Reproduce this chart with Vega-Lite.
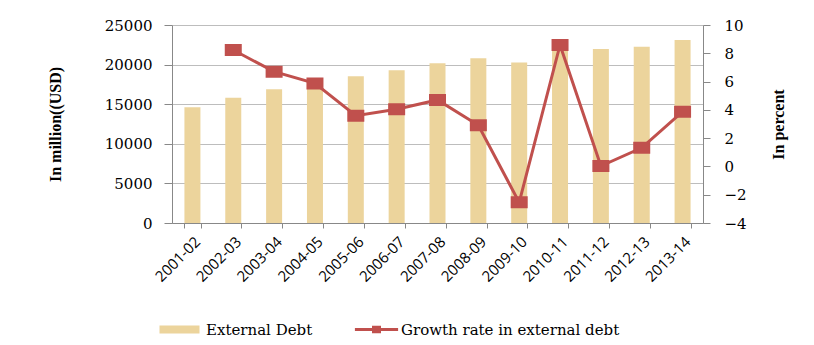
{
  "$schema": "https://vega.github.io/schema/vega-lite/v6.json",
  "autosize": {"type": "none"},
  "width": 531,
  "height": 198,
  "padding": {"left": 172, "top": 25, "right": 111, "bottom": 122},
  "background": "white",
  "config": {"view": {"stroke": null}},
  "data": {
    "values": [
      {"year": "2001-02", "debt": 14600, "growth": null},
      {"year": "2002-03", "debt": 15800, "growth": 8.23},
      {"year": "2003-04", "debt": 16900, "growth": 6.7},
      {"year": "2004-05", "debt": 17880, "growth": 5.87},
      {"year": "2005-06", "debt": 18520, "growth": 3.59},
      {"year": "2006-07", "debt": 19280, "growth": 4.04},
      {"year": "2007-08", "debt": 20160, "growth": 4.7},
      {"year": "2008-09", "debt": 20790, "growth": 2.91},
      {"year": "2009-10", "debt": 20250, "growth": -2.54},
      {"year": "2010-11", "debt": 22000, "growth": 8.59},
      {"year": "2011-12", "debt": 21970, "growth": 0.03},
      {"year": "2012-13", "debt": 22260, "growth": 1.32},
      {"year": "2013-14", "debt": 23100, "growth": 3.87}
    ]
  },
  "encoding": {
    "x": {
      "field": "year",
      "type": "ordinal",
      "scale": {"paddingInner": 0.6, "paddingOuter": 0.3},
      "axis": {
        "title": null,
        "labelAngle": -45,
        "labelFont": "Open Sans",
        "labelFontSize": 15,
        "labelColor": "#000000",
        "labelPadding": 6,
        "tickBand": "extent",
        "tickSize": 5,
        "tickColor": "#888888",
        "domainColor": "#888888",
        "grid": false
      }
    }
  },
  "layer": [
    {
      "mark": {"type": "bar", "width": 16},
      "encoding": {
        "y": {
          "field": "debt",
          "type": "quantitative",
          "scale": {"domain": [0, 25000], "nice": false},
          "axis": {
            "values": [0, 5000, 10000, 15000, 20000, 25000],
            "format": "d",
            "title": "In million((USD)",
            "titleFont": "Liberation Serif",
            "titleFontSize": 16,
            "titleFontWeight": "bold",
            "titleColor": "#000000",
            "titleX": -117,
            "titleY": 99,
            "titleAngle": -90,
            "titleAlign": "center",
            "titleBaseline": "middle",
            "labelFont": "DejaVu Serif",
            "labelFontSize": 15,
            "labelColor": "#000000",
            "labelPadding": 12,
            "tickSize": 8,
            "tickColor": "#888888",
            "domainColor": "#888888",
            "grid": true,
            "gridColor": "#bdbdbd",
            "gridWidth": 1
          }
        },
        "fill": {
          "datum": "External Debt",
          "type": "nominal",
          "scale": {"range": ["#ecd49c"]},
          "legend": {
            "orient": "none",
            "legendX": 0,
            "legendY": 297,
            "title": null,
            "symbolType": "M-5,-1H5V1H-5Z",
            "symbolSize": 64,
            "symbolStrokeWidth": 0,
            "labelOffset": 19,
            "labelLimit": 0,
            "labelFont": "DejaVu Serif",
            "labelFontSize": 15,
            "labelColor": "#000000"
          }
        }
      }
    },
    {
      "mark": {
        "type": "line",
        "strokeWidth": 3,
        "point": {"shape": "M-1.5,-1H1.5V1H-1.5Z", "size": 100, "filled": true, "fill": "#c0504d", "opacity": 1}
      },
      "encoding": {
        "y": {
          "field": "growth",
          "type": "quantitative",
          "scale": {"domain": [-4, 10], "nice": false, "zero": false},
          "axis": {
            "orient": "right",
            "values": [-4, -2, 0, 2, 4, 6, 8, 10],
            "title": "In percent",
            "titleFont": "Liberation Serif",
            "titleFontSize": 16,
            "titleFontWeight": "bold",
            "titleColor": "#000000",
            "titleX": 75,
            "titleY": 99,
            "titleAngle": -90,
            "titleAlign": "center",
            "titleBaseline": "middle",
            "labelFont": "DejaVu Serif",
            "labelFontSize": 15,
            "labelColor": "#000000",
            "labelPadding": 14,
            "tickSize": 7,
            "tickColor": "#888888",
            "domainColor": "#888888",
            "grid": false
          }
        },
        "stroke": {
          "datum": "Growth rate in external debt",
          "type": "nominal",
          "scale": {"range": ["#c0504d"]},
          "legend": {
            "orient": "none",
            "legendX": 197,
            "legendY": 297,
            "title": null,
            "symbolType": "M-5.4,0H5.4M-0.75,-0.55H0.75V0.55H-0.75Z",
            "symbolSize": 64,
            "symbolStrokeWidth": 3,
            "symbolFillColor": "#c0504d",
            "labelOffset": 17,
            "labelLimit": 0,
            "labelFont": "DejaVu Serif",
            "labelFontSize": 15,
            "labelColor": "#000000"
          }
        }
      }
    }
  ],
  "resolve": {"scale": {"y": "independent"}}
}
